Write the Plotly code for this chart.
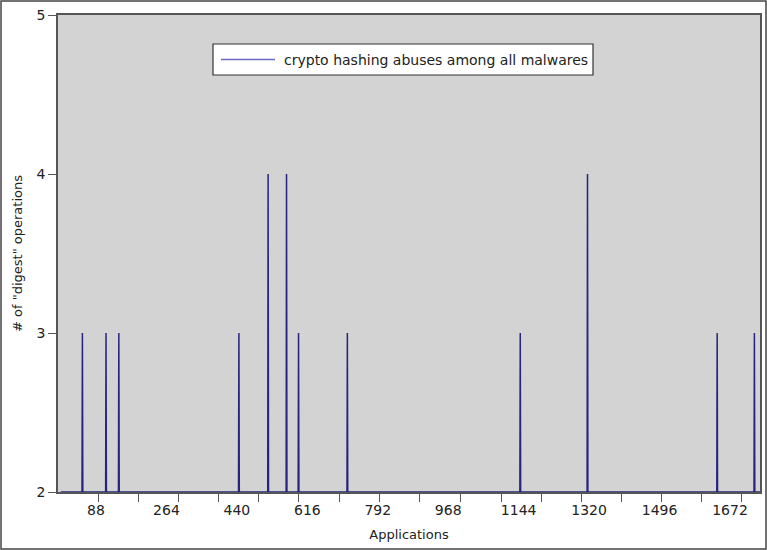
import plotly.graph_objects as go

# ---- data ----
app_index = [54, 113, 145, 445, 518, 564, 594, 716, 1148, 1316, 1640, 1733]
digest_ops = [3, 3, 3, 3, 4, 4, 3, 3, 3, 4, 3, 3]
baseline = 2
x_start, x_end = 0, 1747

tick_label_vals = [88, 264, 440, 616, 792, 968, 1144, 1320, 1496, 1672]
tick_mark_vals = [93, 193, 294, 394, 494, 594, 697, 797, 897, 998, 1100,
                  1200, 1301, 1400, 1500, 1602, 1702]
y_ticks = [2, 3, 4, 5]
series_name = "crypto hashing abuses among all malwares"

# build the spike line from the data
xs, ys = [x_start], [baseline]
for xv, yv in zip(app_index, digest_ops):
    xs += [xv - 1, xv, xv + 1]
    ys += [baseline, yv, baseline]
xs.append(x_end)
ys.append(baseline)

W, H = 767, 550
L, R, T, B = 58, 7, 15, 58
pw, ph = W - L - R, H - T - B

def px(x):
    return (x - L) / pw

def py(y):
    return 1 - (y - T) / ph

line_color = "#25257f"
axis_color = "#555555"
font = dict(family="DejaVu Sans", size=13, color="#222222")
tick_font = dict(family="DejaVu Sans", size=14, color="#222222")
legend_font = dict(family="DejaVu Sans", size=14, color="#222222")

fig = go.Figure()
fig.add_trace(go.Scatter(x=xs, y=ys, mode="lines", name=series_name,
                         line=dict(color=line_color, width=1.5),
                         showlegend=False, hoverinfo="skip"))

fig.update_layout(
    width=W, height=H,
    margin=dict(l=L, r=R, t=T, b=B, autoexpand=False),
    paper_bgcolor="white",
    plot_bgcolor="#d3d3d3",
    font=font,
    xaxis=dict(
        range=[-7, 1747], showgrid=False, zeroline=False, automargin=False,
        tickmode="array", tickvals=tick_label_vals,
        ticks="", ticklen=0, showline=True, linecolor=axis_color,
        linewidth=1.5, mirror=True, layer="below traces",
        title=dict(text="Applications", standoff=13, font=font),
        tickfont=tick_font, ticklabelstandoff=4,
        minor=dict(tickmode="array", tickvals=tick_mark_vals,
                   ticks="outside", ticklen=8, tickcolor=axis_color,
                   tickwidth=1.2, showgrid=False),
    ),
    yaxis=dict(
        range=[2, 5], showgrid=False, zeroline=False, automargin=False,
        tickmode="array", tickvals=y_ticks,
        ticks="outside", ticklen=8, tickcolor=axis_color, tickwidth=1.2,
        showline=True, linecolor=axis_color, linewidth=1.5, mirror=True,
        layer="below traces",
        title=dict(text='# of "digest" operations', standoff=11, font=font),
        tickfont=tick_font,
    ),
)

# manual legend
fig.add_shape(type="rect", xref="paper", yref="paper",
              x0=px(213), x1=px(593), y0=py(75), y1=py(44),
              fillcolor="white", line=dict(color="#333333", width=1.2))
fig.add_shape(type="line", xref="paper", yref="paper",
              x0=px(221), x1=px(275), y0=py(59.5), y1=py(59.5),
              line=dict(color="#6a6ac0", width=1.5))
fig.add_annotation(xref="paper", yref="paper", x=px(282), y=py(60),
                   text=series_name, showarrow=False, xanchor="left",
                   yanchor="middle", font=legend_font)

# outer frame
fig.add_shape(type="rect", xref="paper", yref="paper",
              x0=px(1), x1=px(W - 1), y0=py(H - 1), y1=py(1),
              line=dict(color="#444444", width=1.5), layer="below")

fig.write_html("out.html",
               config={"displayModeBar": False},
               post_script="document.body.style.margin='0';"
                           "document.body.style.overflow='hidden';")
